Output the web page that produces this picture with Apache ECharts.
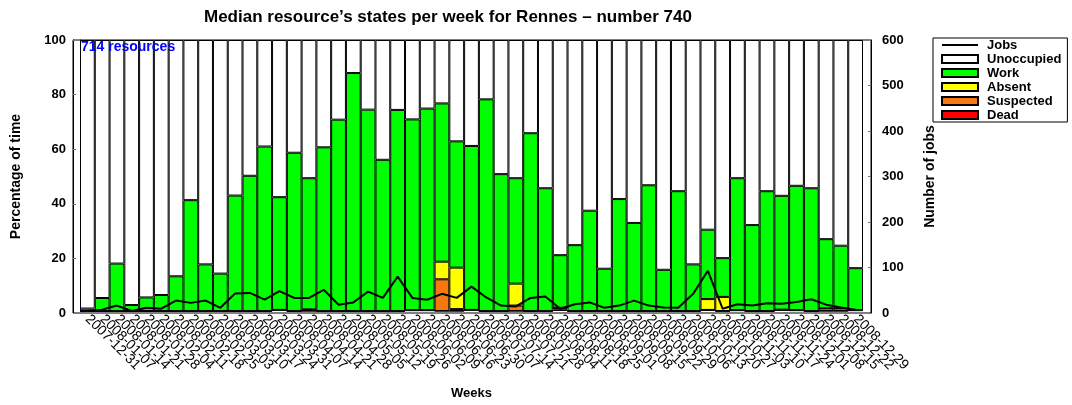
<!DOCTYPE html>
<html>
<head>
<meta charset="utf-8">
<script src="https://cdn.jsdelivr.net/npm/echarts@6/dist/echarts.min.js"></script>
<style>
	html, body { margin: 0; padding: 0; background: #fff; }
	.chart_show { width: 1072px; height: 405px; }
</style>
</head>
<body>
<div class="chart_show"></div>
<script>
// weeks (one bar per week)
var weeks = ['2007-12-31', '2008-01-07', '2008-01-14', '2008-01-21', '2008-01-28', '2008-02-04', '2008-02-11',
	'2008-02-18', '2008-02-25', '2008-03-03', '2008-03-10', '2008-03-17', '2008-03-24', '2008-03-31', '2008-04-07',
	'2008-04-14', '2008-04-21', '2008-04-28', '2008-05-05', '2008-05-12', '2008-05-19', '2008-05-26', '2008-06-02',
	'2008-06-09', '2008-06-16', '2008-06-23', '2008-06-30', '2008-07-07', '2008-07-14', '2008-07-21', '2008-07-28',
	'2008-08-04', '2008-08-11', '2008-08-18', '2008-08-25', '2008-09-01', '2008-09-08', '2008-09-15', '2008-09-22',
	'2008-09-29', '2008-10-06', '2008-10-13', '2008-10-20', '2008-10-27', '2008-11-03', '2008-11-10', '2008-11-17',
	'2008-11-24', '2008-12-01', '2008-12-08', '2008-12-15', '2008-12-22', '2008-12-29'];

// percentage of time per state
var dead = [0, 0, 0, 0, 0, 0, 0, 0, 0, 0, 0, 0, 0, 0.4, 0, 0, 0, 0, 0, 0,
	0, 0, 0.3, 0.3, 0, 0, 0.4, 0, 0, 0, 0, 0, 0.6, 0, 0, 0, 0, 0, 0, 0,
	0, 0, 0.4, 0, 0.3, 0, 0, 0.5, 0.3, 0, 0, 0, 0.3];
var suspected = [0, 0, 0, 0, 0, 0, 0, 0, 0, 0, 0, 0, 0, 0, 0, 0.6, 0, 0, 0, 0,
	0, 0, 0, 0, 11.7, 0.7, 0, 0, 0, 2.0, 0, 0, 0.6, 0, 0, 0, 0, 0, 0, 0,
	0, 0, 0, 0, 0, 0, 0, 0, 0, 0, 1.0, 1.0, 0];
var absent = [0, 0, 0, 0, 0, 0, 0, 0, 0, 0, 0, 0, 0, 0, 0, 0, 0, 0, 0, 0,
	0, 0, 0, 0, 6.5, 15.3, 0, 0, 0, 8.1, 0, 0, 0, 0, 0, 0, 0, 0, 0, 0,
	0, 0, 4.0, 5.2, 0, 0, 0, 0, 0, 0, 0, 0, 0];
var work = [0.9, 4.8, 17.5, 2.2, 5.0, 5.9, 12.8, 40.9, 17.2, 13.8, 42.6, 49.9, 60.7, 41.6, 58.4, 48.4, 60.4, 70.6, 87.8, 74.3,
	55.8, 74.2, 70.4, 74.4, 58.4, 46.6, 60.5, 78.1, 50.5, 38.9, 65.6, 45.3, 19.4, 24.3, 37.0, 15.6, 41.3, 32.5, 46.4, 15.2,
	44.2, 17.2, 25.6, 14.3, 48.7, 31.7, 44.2, 42.0, 45.9, 45.3, 25.5, 23.1, 15.5];
var unoccupied = [99.1, 95.2, 82.5, 97.8, 95.0, 94.1, 87.2, 59.1, 82.8, 86.2, 57.4, 50.1, 39.3, 58.0, 41.6, 51.0, 39.6, 29.4, 12.2, 25.7,
	44.2, 25.8, 29.3, 25.3, 23.4, 37.4, 39.1, 21.9, 49.5, 51.0, 34.4, 54.7, 79.4, 75.7, 63.0, 84.4, 58.7, 67.5, 53.6, 84.8,
	55.8, 82.8, 70.0, 80.5, 51.0, 68.3, 55.8, 57.5, 53.8, 54.7, 73.5, 75.9, 84.2];

// number of jobs per week (right axis)
var jobs = [0, 3, 12, 0, 7, 5, 23, 18, 23, 7, 39, 40, 25, 44, 29, 29, 47, 14, 19, 43,
	29, 76, 29, 25, 38, 29, 54, 30, 12, 10, 29, 32, 5, 15, 19, 7, 12, 23, 12, 8,
	7, 38, 89, 5, 15, 12, 17, 16, 20, 26, 14, 8, 3];

var pctTicks = [0, 20, 40, 60, 80, 100];
var jobTicks = [0, 100, 200, 300, 400, 500, 600];

function chart() {
	var myChart = echarts.init(document.querySelector('.chart_show'), null, { renderer: 'canvas' });
	var font = 'Liberation Sans, Arial, sans-serif';

	function barSeries(name, data, color) {
		return {
			name: name,
			type: 'bar',
			stack: 'states',
			xAxisIndex: 1,
			yAxisIndex: 2,
			data: data,
			barWidth: '100%',
			barCategoryGap: 0,
			itemStyle: {
				color: color,
				borderColor: '#000',
				borderWidth: 1
			}
		};
	}

	var option = {
		animation: false,
		backgroundColor: '#fff',
		textStyle: { fontFamily: font },
		title: [{
			text: "Median resource\u2019s states per week for Rennes \u2013 number 740",
			left: 199,
			top: 4,
			textStyle: { fontFamily: font, fontSize: 17, fontWeight: 'bold', color: '#000' }
		}, {
			text: '714 resources',
			left: 81,
			top: 40,
			padding: 0,
			textStyle: { fontFamily: font, fontSize: 14, fontWeight: 'bold', color: '#0000ff' }
		}],
		legend: {
			orient: 'vertical',
			left: 933,
			top: 38,
			itemWidth: 36,
			itemHeight: 8,
			itemGap: 0,
			padding: [0, 6, 0, 8],
			borderColor: '#000',
			borderWidth: 1,
			textStyle: {
				fontFamily: font, fontSize: 13, fontWeight: 'bold', color: '#000',
				lineHeight: 14, padding: [0, 0, 0, 4]
			},
			data: [
				// line only, hide the legend symbol
				{ name: 'Jobs', itemStyle: { color: 'rgba(0,0,0,0)', borderColor: 'rgba(0,0,0,0)', borderWidth: 0 } },
				{ name: 'Unoccupied', icon: 'rect' },
				{ name: 'Work', icon: 'rect' },
				{ name: 'Absent', icon: 'rect' },
				{ name: 'Suspected', icon: 'rect' },
				{ name: 'Dead', icon: 'rect' }
			]
		},
		// grid 0 = frame with the two value axes, grid 1 = where the bars live
		grid: [{
			left: 73,
			right: 201,
			top: 40,
			bottom: 92,
			show: true,
			borderColor: '#000',
			borderWidth: 1
		}, {
			left: 80,
			right: 209,
			top: 40,
			bottom: 92
		}],
		xAxis: [{
			gridIndex: 0,
			type: 'value',
			show: false
		}, {
			gridIndex: 1,
			type: 'category',
			data: weeks,
			boundaryGap: true,
			name: 'Weeks',
			nameLocation: 'middle',
			nameGap: 76,
			nameTextStyle: { fontFamily: font, fontSize: 13, fontWeight: 'bold', color: '#000' },
			axisLine: { show: false },
			axisTick: { show: false },
			axisLabel: {
				interval: 0,
				rotate: -45,
				margin: 6,
				fontFamily: font,
				fontSize: 14,
				color: '#000'
			}
		}],
		yAxis: [{
			gridIndex: 0,
			type: 'value',
			position: 'left',
			min: pctTicks[0],
			max: pctTicks[pctTicks.length - 1],
			interval: 20,
			name: 'Percentage of time',
			nameLocation: 'middle',
			nameRotate: 90,
			nameGap: 50,
			nameTextStyle: { fontFamily: font, fontSize: 14, fontWeight: 'bold', color: '#000' },
			axisLine: { show: true, lineStyle: { color: '#000' } },
			axisTick: { show: true, inside: true, length: 3, lineStyle: { color: '#777' } },
			axisLabel: { margin: 7, fontFamily: font, fontSize: 13, fontWeight: 'bold', color: '#000' },
			splitLine: { show: false }
		}, {
			gridIndex: 0,
			type: 'value',
			position: 'right',
			min: jobTicks[0],
			max: jobTicks[jobTicks.length - 1],
			interval: 100,
			name: 'Number of jobs',
			nameLocation: 'middle',
			nameRotate: 90,
			nameGap: 52,
			nameTextStyle: { fontFamily: font, fontSize: 14, fontWeight: 'bold', color: '#000' },
			axisLine: { show: true, lineStyle: { color: '#000' } },
			axisTick: { show: true, inside: true, length: 3, lineStyle: { color: '#777' } },
			axisLabel: { margin: 11, fontFamily: font, fontSize: 13, fontWeight: 'bold', color: '#000' },
			splitLine: { show: false }
		}, {
			gridIndex: 1,
			type: 'value',
			position: 'left',
			min: 0,
			max: 100,
			// blue dotted line at the start of the data
			axisLine: { show: true, lineStyle: { color: '#0000ff', type: 'dotted', width: 1 } },
			axisTick: { show: false },
			axisLabel: { show: false },
			splitLine: { show: false }
		}, {
			gridIndex: 1,
			type: 'value',
			position: 'right',
			min: 0,
			max: 600,
			show: false,
			splitLine: { show: false }
		}],
		series: [
			barSeries('Dead', dead, '#ff0000'),
			barSeries('Suspected', suspected, '#f7780f'),
			barSeries('Absent', absent, '#ffff00'),
			barSeries('Work', work, '#00ff00'),
			barSeries('Unoccupied', unoccupied, '#ffffff'),
			{
				name: 'Jobs',
				type: 'line',
				xAxisIndex: 1,
				yAxisIndex: 3,
				data: jobs,
				symbol: 'none',
				z: 5,
				lineStyle: { color: '#000', width: 2 },
				itemStyle: { color: '#000' }
			}
		]
	};
	myChart.setOption(option);
}
chart();
</script>
</body>
</html>
